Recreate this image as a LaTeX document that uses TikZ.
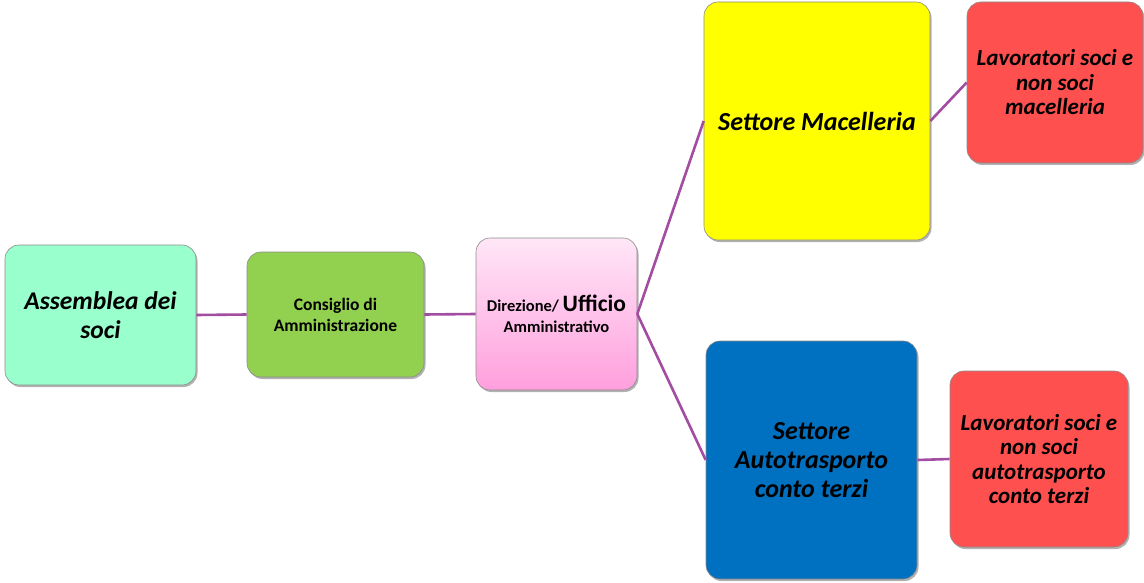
\documentclass[tikz,border=0pt]{standalone}
\usepackage{fontspec}
\setmainfont{Carlito}
\usetikzlibrary{shadows}
\definecolor{mint}{HTML}{99FFCC}
\definecolor{leaf}{HTML}{92D050}
\definecolor{pinkt}{HTML}{FFE6F7}
\definecolor{pinkb}{HTML}{FF9FDD}
\definecolor{yel}{HTML}{FFFF00}
\definecolor{redb}{HTML}{FF5050}
\definecolor{blueb}{HTML}{0070C0}
\definecolor{link}{HTML}{A24CA2}
\begin{document}
\begin{tikzpicture}[x=1pt,y=-1pt,
  box/.style={rounded corners=14pt, draw=black!45, line width=0.6pt, align=center, inner sep=0pt,
    drop shadow={shadow xshift=1.5pt, shadow yshift=-2pt, opacity=0.3, fill=black}},
  conn/.style={draw=link, line width=2.6pt},
  bigit/.style={font=\fontsize{25.5}{29}\selectfont\bfseries\itshape},
  redit/.style={font=\fontsize{23}{24.5}\selectfont\bfseries\itshape}]
\useasboundingbox (0,0) rectangle (1144,583);
\node[box, fill=mint, minimum width=191pt, minimum height=140pt, bigit] (ass) at (100.5,315) {Assemblea dei\\soci};
\node[box, fill=leaf, minimum width=177pt, minimum height=125pt, font=\fontsize{17.5}{21}\selectfont\bfseries] (cons) at (335.5,314.5) {Consiglio di\\Amministrazione};
\node[box, top color=pinkt, bottom color=pinkb, minimum width=161pt, minimum height=152pt, font=\fontsize{16.5}{21}\selectfont\bfseries] (dir) at (556.5,314) {Direzione/ {\fontsize{23.5}{21}\selectfont Ufficio}\\Amministrativo};
\node[box, fill=yel, minimum width=226pt, minimum height=238pt, font=\fontsize{26}{30}\selectfont\bfseries\itshape] (mac) at (817,121) {Settore Macelleria};
\node[box, fill=redb, minimum width=176pt, minimum height=161pt, redit] (lavm) at (1055,82.5) {Lavoratori soci e\\non soci\\macelleria};
\node[box, fill=blueb, minimum width=211pt, minimum height=238pt, font=\fontsize{26}{29}\selectfont\bfseries\itshape] (aut) at (811.5,460) {Settore\\Autotrasporto\\conto terzi};
\node[box, fill=redb, minimum width=178pt, minimum height=176pt, redit] (lava) at (1039,459) {Lavoratori soci e\\non soci\\autotrasporto\\conto terzi};
\draw[conn] (ass.east) -- (cons.west);
\draw[conn] (cons.east) -- (dir.west);
\draw[conn] (dir.east) -- (mac.west);
\draw[conn] (dir.east) -- (aut.west);
\draw[conn] (mac.east) -- (lavm.west);
\draw[conn] (aut.east) -- (lava.west);
\end{tikzpicture}
\end{document}
